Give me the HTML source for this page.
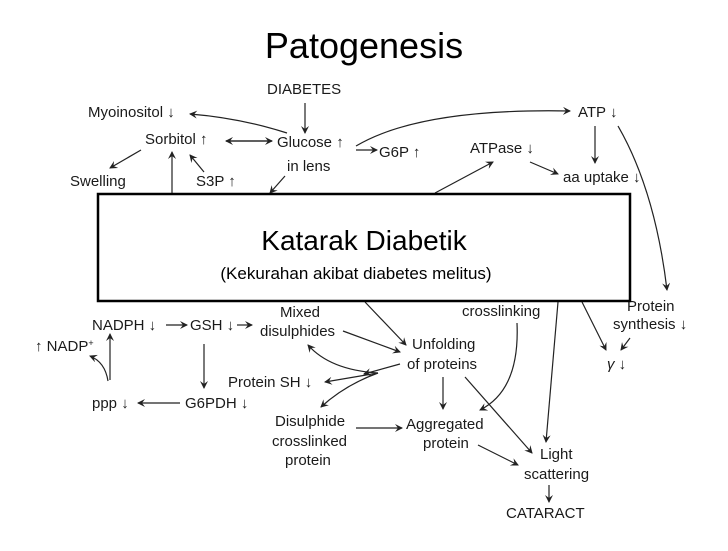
<!DOCTYPE html>
<html><head><meta charset="utf-8"><style>
body{margin:0;background:#fff}
svg text{font-family:"Liberation Sans",Arial,sans-serif;font-size:15px;fill:#1a1a1a}
</style></head><body>
<svg width="728" height="546" viewBox="0 0 728 546">
<defs><marker id="a" markerWidth="8" markerHeight="8" refX="7" refY="4" orient="auto" markerUnits="userSpaceOnUse"><path d="M0,0 L8,4 L0,8 L3,4Z" fill="#222"/></marker></defs>
<text x="364" y="58" text-anchor="middle" style="font-family:'Liberation Sans',sans-serif;font-size:36px;fill:#000">Patogenesis</text>
<g stroke="#222" stroke-width="1.2" fill="none" marker-end="url(#a)">
<line x1="305" y1="103" x2="305" y2="133"/>
<path d="M287,133 Q240,118 190,114"/>
<line x1="272" y1="141" x2="226" y2="141"/>
<line x1="226" y1="141" x2="272" y2="141"/>
<line x1="141" y1="150" x2="110" y2="168"/>
<line x1="204" y1="172" x2="190" y2="155"/>
<line x1="172" y1="193" x2="172" y2="152"/>
<line x1="285" y1="176" x2="270" y2="193"/>
<line x1="356" y1="150" x2="377" y2="150"/>
<path d="M356,146 Q420,108 570,111"/>
<line x1="595" y1="126" x2="595" y2="163"/>
<line x1="530" y1="162" x2="558" y2="174"/>
<line x1="435" y1="193" x2="493" y2="162"/>
<path d="M618,126 Q655,190 667,290"/>
<line x1="166" y1="325" x2="187" y2="325"/>
<line x1="237" y1="325" x2="252" y2="325"/>
<line x1="204" y1="344" x2="204" y2="388"/>
<line x1="180" y1="403" x2="138" y2="403"/>
<line x1="110" y1="380" x2="110" y2="334"/>
<path d="M108,381 Q105,362 90,356"/>
<path d="M343,331 L400,352"/>
<path d="M378,373 Q330,370 308,345"/>
<line x1="378" y1="373" x2="325" y2="382"/>
<path d="M378,373 Q345,385 321,407"/>
<line x1="365" y1="302" x2="406" y2="345"/>
<line x1="400" y1="364" x2="364" y2="374"/>
<line x1="443" y1="377" x2="443" y2="409"/>
<line x1="356" y1="428" x2="402" y2="428"/>
<path d="M517,323 Q520,390 480,410"/>
<line x1="465" y1="377" x2="532" y2="453"/>
<line x1="478" y1="445" x2="518" y2="465"/>
<line x1="558" y1="302" x2="546" y2="442"/>
<line x1="549" y1="485" x2="549" y2="502"/>
<line x1="582" y1="302" x2="606" y2="350"/>
<line x1="630" y1="338" x2="621" y2="350"/>
</g>
<text x="267" y="94">DIABETES</text>
<text x="88" y="117">Myoinositol ↓</text>
<text x="145" y="144">Sorbitol ↑</text>
<text x="277" y="147">Glucose ↑</text>
<text x="287" y="171">in lens</text>
<text x="70" y="186">Swelling</text>
<text x="196" y="186">S3P ↑</text>
<text x="379" y="157">G6P ↑</text>
<text x="470" y="153">ATPase ↓</text>
<text x="578" y="117">ATP ↓</text>
<text x="563" y="182">aa uptake ↓</text>
<text x="280" y="317">Mixed</text>
<text x="260" y="336">disulphides</text>
<text x="92" y="330">NADPH ↓</text>
<text x="190" y="330">GSH ↓</text>
<text x="35" y="351">↑ NADP<tspan dy="-5" font-size="9">+</tspan></text>
<text x="228" y="387">Protein SH ↓</text>
<text x="92" y="408">ppp ↓</text>
<text x="185" y="408">G6PDH ↓</text>
<text x="275" y="426">Disulphide</text>
<text x="272" y="446">crosslinked</text>
<text x="285" y="465">protein</text>
<text x="462" y="316">crosslinking</text>
<text x="412" y="349">Unfolding</text>
<text x="407" y="369">of proteins</text>
<text x="406" y="429">Aggregated</text>
<text x="423" y="448">protein</text>
<text x="540" y="459">Light</text>
<text x="524" y="479">scattering</text>
<text x="506" y="518">CATARACT</text>
<text x="627" y="311">Protein</text>
<text x="613" y="329">synthesis ↓</text>
<text x="607" y="369" font-style="italic">γ ↓</text>
<rect x="98" y="194" width="532" height="107" fill="#fff" stroke="#000" stroke-width="2.5"/>
<text x="364" y="250" text-anchor="middle" style="font-size:28px;fill:#000">Katarak Diabetik</text>
<text x="356" y="279" text-anchor="middle" style="font-size:17px;fill:#000">(Kekurahan akibat diabetes melitus)</text>
</svg>
</body></html>
